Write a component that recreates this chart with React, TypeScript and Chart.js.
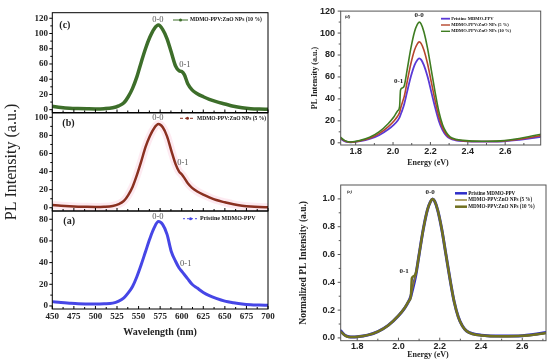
import React, { useEffect, useRef } from 'react';
import { Chart, registerables } from 'chart.js';

Chart.register(...registerables);

const SERIF = "'Liberation Serif', 'Times New Roman', serif";
const SANS = "'Liberation Sans', Arial, sans-serif";
const W = 550;
const H = 363;

// ---------- series names ----------
const seriesNames = ['Pristine MDMO-PPV', 'MDMO-PPV:ZnO NPs (5 %)', 'MDMO-PPV:ZnO NPs (10 %)'];

// ---------- panels (a)-(c): PL vs wavelength ----------
const wavelength = [450, 460, 470, 480, 490, 500, 510, 520, 527, 533, 538, 543, 548, 553, 558, 563, 568, 573, 578, 583, 588, 593, 597, 600, 603, 607, 612, 618, 625, 632, 640, 650, 660, 670, 680, 690, 700];
const plPristineWl = [4, 3.2, 2.6, 2.1, 1.9, 1.8, 2, 2.6, 4.5, 7.5, 12, 18, 27, 38, 50, 62, 72, 77.8, 75, 66, 50, 41, 35, 32, 29, 25, 20, 16.5, 12.5, 9.5, 7, 4.5, 3, 1.8, 1.1, 0.8, 0.6];
const plZno5Wl = [3, 2.2, 1.6, 1.2, 1, 0.9, 1.1, 2, 4, 7.5, 14, 23, 36, 51, 67, 79, 88, 92.5, 89, 79, 63, 48, 40, 37, 33, 27, 22, 18, 14.5, 11.5, 8.5, 6, 3.8, 2.3, 1.3, 0.8, 0.6];
const plZno10Wl = [4.5, 3, 2, 1.5, 1.2, 1, 1.3, 2.5, 5, 9, 17, 28, 43, 62, 80, 95, 106, 111, 105, 93, 75, 57, 51, 50, 46, 34, 26, 21, 17, 13.5, 10.5, 7.5, 4.5, 2.5, 1.3, 0.8, 0.6];

// ---------- panel (d): PL vs energy ----------
const energyD = [1.68, 1.70, 1.72, 1.74, 1.76, 1.775, 1.825, 1.875, 1.925, 1.975, 2.005, 2.025, 2.035, 2.04, 2.05, 2.06, 2.075, 2.095, 2.115, 2.13, 2.14, 2.15, 2.165, 2.185, 2.205, 2.225, 2.245, 2.265, 2.285, 2.305, 2.335, 2.375, 2.475, 2.575, 2.675, 2.755, 2.825];
const plPristineE = [8, 5.5, 3.6, 1.5, 0.6, 0.5, 1.5, 3.5, 6.9, 12.3, 16.6, 20.4, 23.1, 25.4, 30.0, 35.4, 46.2, 60.1, 70.8, 75.5, 77.0, 75.8, 70.8, 60.1, 46.2, 32.3, 20.0, 11.6, 6.5, 3.9, 2.3, 1.5, 1.0, 1.2, 2.7, 4.6, 6.2];
const plZno5E = [9, 6.5, 4.3, 1.8, 0.7, 0.6, 1.8, 4.1, 8.3, 14.7, 19.8, 24.4, 27.6, 31.0, 36.8, 42.3, 55.2, 71.8, 84.6, 90.2, 92.0, 90.6, 84.6, 71.8, 55.2, 38.6, 23.9, 13.8, 7.8, 4.6, 2.8, 1.8, 1.2, 1.5, 3.2, 5.5, 7.4];
const plZno10E = [10, 7.5, 5, 2.2, 0.9, 0.7, 2.2, 5.0, 9.9, 17.6, 23.7, 29.2, 33.0, 48.0, 50.0, 52.0, 66.0, 85.8, 101.2, 107.8, 110.0, 108.4, 101.2, 85.8, 66.0, 46.2, 28.6, 16.5, 9.4, 5.5, 3.3, 2.2, 1.4, 1.8, 3.9, 6.6, 8.8];

// ---------- panel (e): normalized PL vs energy ----------
const energyE = [1.70, 1.72, 1.74, 1.76, 1.78, 1.80, 1.85, 1.90, 1.95, 2.00, 2.03, 2.05, 2.06, 2.065, 2.075, 2.085, 2.10, 2.12, 2.14, 2.155, 2.165, 2.175, 2.19, 2.21, 2.23, 2.25, 2.27, 2.29, 2.31, 2.33, 2.36, 2.40, 2.50, 2.60, 2.70, 2.78, 2.85];
const normPristine = [0.07, 0.05, 0.02, 0.008, 0.006, 0.008, 0.02, 0.045, 0.09, 0.16, 0.215, 0.265, 0.30, 0.33, 0.39, 0.46, 0.60, 0.78, 0.92, 0.98, 1.0, 0.985, 0.92, 0.78, 0.60, 0.42, 0.26, 0.15, 0.085, 0.05, 0.03, 0.02, 0.013, 0.016, 0.035, 0.06, 0.08];
const normZno5 = [0.065, 0.045, 0.018, 0.007, 0.006, 0.008, 0.02, 0.046, 0.09, 0.16, 0.215, 0.265, 0.30, 0.335, 0.40, 0.46, 0.60, 0.78, 0.92, 0.98, 1.0, 0.985, 0.92, 0.78, 0.60, 0.42, 0.26, 0.15, 0.085, 0.05, 0.028, 0.018, 0.011, 0.014, 0.03, 0.05, 0.07];
const normZno10 = [0.06, 0.045, 0.018, 0.007, 0.006, 0.008, 0.02, 0.046, 0.09, 0.16, 0.215, 0.265, 0.30, 0.43, 0.445, 0.47, 0.60, 0.78, 0.92, 0.98, 1.0, 0.985, 0.92, 0.78, 0.60, 0.42, 0.26, 0.15, 0.085, 0.05, 0.028, 0.018, 0.012, 0.015, 0.032, 0.055, 0.075];

// ---------- ticks ----------
const wlTicks = [450, 475, 500, 525, 550, 575, 600, 625, 650, 675, 700];
const wlMinor = [462.5, 487.5, 512.5, 537.5, 562.5, 587.5, 612.5, 637.5, 662.5, 687.5];
const yTicksC = [0, 20, 40, 60, 80, 100, 120];
const yTicksB = [0, 20, 40, 60, 80, 100];
const yTicksA = [0, 20, 40, 60, 80];
const yMinorC = [10, 30, 50, 70, 90, 110];
const yMinorB = [10, 30, 50, 70, 90];
const yMinorA = [10, 30, 50, 70];
const eTicks = [1.8, 2.0, 2.2, 2.4, 2.6];
const eMinor = [1.9, 2.1, 2.3, 2.5, 2.7];
const yTicksD = [0, 20, 40, 60, 80, 100, 120];
const yMinorD = [10, 30, 50, 70, 90, 110];
const yTicksE = [0, 0.2, 0.4, 0.6, 0.8, 1.0];
const yMinorE = [0.1, 0.3, 0.5, 0.7, 0.9];

const pts = (xs: number[], ys: number[]) => xs.map((x, i) => ({ x, y: ys[i] }));

const decoPlugin = {
  id: 'deco',
  afterDraw(chart: any, _a: any, o: any) {
    const ctx: CanvasRenderingContext2D = chart.ctx;
    const { left, right, top, bottom } = chart.chartArea;
    const xs = chart.scales.x;
    const ys = chart.scales.y;
    ctx.save();
    ctx.strokeStyle = o.frameColor || '#000';
    ctx.lineWidth = 1;
    ctx.setLineDash([]);
    ctx.strokeRect(left, top, right - left, bottom - top);
    const t = o.ticks;
    if (t) {
      const xt = (vals: number[], len: number) => {
        for (const v of vals) {
          const p = xs.getPixelForValue(v);
          if (p < left - 0.5 || p > right + 0.5) continue;
          ctx.beginPath();
          ctx.moveTo(p, bottom);
          ctx.lineTo(p, bottom + t.xDir * len);
          ctx.stroke();
        }
      };
      const yt = (vals: number[], len: number) => {
        for (const v of vals) {
          const p = ys.getPixelForValue(v);
          if (p < top - 0.5 || p > bottom + 0.5) continue;
          ctx.beginPath();
          ctx.moveTo(left, p);
          ctx.lineTo(left - t.yDir * len, p);
          ctx.stroke();
        }
      };
      xt(t.xMajor, t.majorLen);
      xt(t.xMinor, t.minorLen);
      yt(t.yMajor, t.majorLen);
      yt(t.yMinor, t.minorLen);
    }
    ctx.textBaseline = 'middle';
    for (const it of o.texts || []) {
      const px = it.data ? xs.getPixelForValue(it.x) : left + it.dx;
      const py = it.data ? ys.getPixelForValue(it.y) : top + it.dy;
      ctx.font = it.font;
      ctx.fillStyle = it.color || '#222';
      ctx.textAlign = it.align || 'center';
      ctx.fillText(it.text, px, py);
    }
    const lg = o.legend;
    if (lg) {
      lg.items.forEach((item: any, i: number) => {
        const y = top + lg.dy + i * lg.rowH;
        const x0 = left + lg.dx;
        ctx.strokeStyle = item.color;
        ctx.lineWidth = item.width;
        ctx.setLineDash(item.dash || []);
        ctx.beginPath();
        ctx.moveTo(x0, y);
        ctx.lineTo(x0 + lg.lineLen, y);
        ctx.stroke();
        ctx.setLineDash([]);
        if (item.dot) {
          ctx.fillStyle = item.color;
          ctx.beginPath();
          ctx.arc(x0 + lg.lineLen / 2, y, 1.5, 0, Math.PI * 2);
          ctx.fill();
        }
        ctx.font = lg.font;
        ctx.fillStyle = lg.color || '#111';
        ctx.textAlign = 'left';
        ctx.fillText(item.label, x0 + lg.lineLen + lg.gap, y);
      });
    }
    for (const ti of o.titles || []) {
      ctx.font = ti.font;
      ctx.fillStyle = ti.color || '#222';
      ctx.textAlign = 'center';
      ctx.fillText(ti.text, ti.x, ti.y);
    }
    ctx.restore();
  },
};

function makeConfig(p: any): any {
  return {
    type: 'line',
    data: { datasets: p.datasets },
    options: {
      responsive: false,
      animation: false,
      devicePixelRatio: 1,
      events: [],
      layout: {
        padding: { left: p.yBoxLeft, top: p.area.t, right: W - p.area.r, bottom: H - p.area.b - p.xBoxH },
      },
      elements: { point: { radius: 0 }, line: { cubicInterpolationMode: 'monotone' } },
      plugins: { legend: { display: false }, tooltip: { enabled: false }, deco: p.deco },
      scales: {
        x: {
          type: 'linear',
          min: p.xMin,
          max: p.xMax,
          afterBuildTicks: (s: any) => { s.ticks = p.xTicks.map((v: number) => ({ value: v })); },
          afterFit: (s: any) => { s.height = p.xBoxH; },
          grid: { display: false, drawTicks: false },
          border: { display: false },
          ticks: {
            display: p.xLabels,
            autoSkip: false,
            maxRotation: 0,
            padding: p.xTickPad,
            font: p.tickFont,
            color: '#222',
            callback: (v: any) => Number(v).toFixed(p.xDigits),
          },
          title: p.xTitle
            ? { display: true, text: p.xTitle.text, font: p.xTitle.font, color: '#222', padding: { top: 0, bottom: p.xTitle.pad } }
            : { display: false },
        },
        y: {
          type: 'linear',
          min: p.yMin,
          max: p.yMax,
          afterBuildTicks: (s: any) => { s.ticks = p.yTicks.map((v: number) => ({ value: v })); },
          afterFit: (s: any) => { s.width = p.area.l - p.yBoxLeft; },
          grid: { display: false, drawTicks: false },
          border: { display: false },
          ticks: {
            autoSkip: false,
            padding: p.yTickPad,
            font: p.tickFont,
            color: '#222',
            callback: (v: any) => Number(v).toFixed(p.yDigits),
          },
          title: p.yTitle
            ? { display: true, text: p.yTitle.text, font: p.yTitle.font, color: p.yTitle.color || '#222', padding: { top: p.yTitle.pad, bottom: 0 } }
            : { display: false },
        },
      },
    },
    plugins: [decoPlugin],
  };
}

const leftTickFont = { family: SERIF, size: 9, weight: 'bold' };
const rightTickFont = { family: SANS, size: 9, weight: 'bold' };
const leftNote = `8.5px ${SERIF}`;
const rightNote = `bold 7px ${SERIF}`;

const GREEN_L = '#3d6e2a';
const RED_L = '#8a3020';
const BLUE_L = '#4646e6';

function leftTicks(yMajor: number[], yMinor: number[]) {
  return { xMajor: wlTicks, xMinor: wlMinor, yMajor, yMinor, xDir: -1, yDir: 1, majorLen: 3, minorLen: 2 };
}

const configs = [
  // (c)
  () => makeConfig({
    area: { l: 52.3, t: 12.7, r: 268, b: 112.5 }, yBoxLeft: 0, xBoxH: 0,
    xMin: 450, xMax: 700, yMin: -3.7, yMax: 127.3,
    xTicks: wlTicks, yTicks: yTicksC, xLabels: false, xDigits: 0, yDigits: 0,
    tickFont: leftTickFont, xTickPad: 2.6, yTickPad: 4.3,
    datasets: [{ label: seriesNames[2], data: pts(wavelength, plZno10Wl), borderColor: GREEN_L, borderWidth: 3.5 }],
    deco: {
      frameColor: '#000',
      ticks: leftTicks(yTicksC, yMinorC),
      texts: [
        { text: '(c)', dx: 7, dy: 12.3, align: 'left', font: `bold 10px ${SERIF}` },
        { text: '0-0', data: true, x: 572.3, y: 117.7, font: leftNote, color: '#555' },
        { text: '0-1', data: true, x: 603.6, y: 58.7, font: leftNote, color: '#555' },
      ],
      legend: { dx: 120.7, dy: 7.3, rowH: 7, lineLen: 15, gap: 2, font: `bold 5.5px ${SERIF}`, items: [{ label: seriesNames[2], color: GREEN_L, width: 1, dot: true }] },
    },
  }),
  // (b)
  () => makeConfig({
    area: { l: 52.3, t: 113, r: 268, b: 211 }, yBoxLeft: 0, xBoxH: 0,
    xMin: 450, xMax: 700, yMin: -3.6, yMax: 104.8,
    xTicks: wlTicks, yTicks: yTicksB, xLabels: false, xDigits: 0, yDigits: 0,
    tickFont: leftTickFont, xTickPad: 2.6, yTickPad: 4.3,
    yTitle: { text: 'PL Intensity (a.u.)', font: { family: SERIF, size: 16, weight: 'normal' }, pad: 2.4, color: '#222' },
    datasets: [
      { label: seriesNames[1], data: pts(wavelength, plZno5Wl), borderColor: RED_L, borderWidth: 2.5 },
      { label: 'halo', data: pts(wavelength, plZno5Wl), borderColor: 'rgba(247,185,210,0.3)', borderWidth: 8 },
    ],
    deco: {
      frameColor: '#000',
      ticks: leftTicks(yTicksB, yMinorB),
      texts: [
        { text: '(b)', dx: 10, dy: 10.7, align: 'left', font: `bold 10px ${SERIF}` },
        { text: '0-0', data: true, x: 572.3, y: 99.2, font: leftNote, color: '#555' },
        { text: '0-1', data: true, x: 601.3, y: 49.4, font: leftNote, color: '#555' },
      ],
      legend: { dx: 127.7, dy: 5.3, rowH: 7, lineLen: 15, gap: 2, font: `bold 5.5px ${SERIF}`, items: [{ label: seriesNames[1], color: RED_L, width: 1, dot: true, dash: [3, 2] }] },
    },
  }),
  // (a)
  () => makeConfig({
    area: { l: 52.3, t: 211, r: 268, b: 309 }, yBoxLeft: 0, xBoxH: 30,
    xMin: 450, xMax: 700, yMin: -2.8, yMax: 87.6,
    xTicks: wlTicks, yTicks: yTicksA, xLabels: true, xDigits: 0, yDigits: 0,
    tickFont: leftTickFont, xTickPad: 2.6, yTickPad: 4.3,
    xTitle: { text: 'Wavelength (nm)', font: { family: SERIF, size: 10, weight: 'bold' }, pad: 1 },
    datasets: [{ label: seriesNames[0], data: pts(wavelength, plPristineWl), borderColor: BLUE_L, borderWidth: 3 }],
    deco: {
      frameColor: '#000',
      ticks: leftTicks(yTicksA, yMinorA),
      texts: [
        { text: '(a)', dx: 11, dy: 10, align: 'left', font: `bold 10px ${SERIF}` },
        { text: '0-0', data: true, x: 572.3, y: 82.1, font: leftNote, color: '#555' },
        { text: '0-1', data: true, x: 604.7, y: 38.7, font: leftNote, color: '#555' },
      ],
      legend: { dx: 130.7, dy: 7.7, rowH: 7, lineLen: 15, gap: 2, font: `bold 6px ${SERIF}`, items: [{ label: seriesNames[0], color: BLUE_L, width: 1, dot: true, dash: [2, 2] }] },
    },
  }),
  // (d)
  () => makeConfig({
    area: { l: 340.7, t: 9.1, r: 540.7, b: 145 }, yBoxLeft: 305, xBoxH: 12,
    xMin: 1.72, xMax: 2.79, yMin: -2, yMax: 120,
    xTicks: eTicks, yTicks: yTicksD, xLabels: true, xDigits: 1, yDigits: 0,
    tickFont: rightTickFont, xTickPad: 0.8, yTickPad: 5.7,
    yTitle: { text: 'PL Intensity (a.u.)', font: { family: SERIF, size: 8, weight: 'bold' }, pad: 5.2, color: '#222' },
    datasets: [
      { label: seriesNames[2], data: pts(energyD, plZno10E), borderColor: '#3f7d22', borderWidth: 1.6 },
      { label: seriesNames[1], data: pts(energyD, plZno5E), borderColor: '#b5462c', borderWidth: 1.6 },
      { label: seriesNames[0], data: pts(energyD, plPristineE), borderColor: '#5a3ad6', borderWidth: 1.8 },
    ],
    deco: {
      frameColor: '#555',
      ticks: { xMajor: eTicks, xMinor: eMinor, yMajor: yTicksD, yMinor: yMinorD, xDir: -1, yDir: 1, majorLen: 3, minorLen: 2 },
      texts: [
        { text: '(d)', dx: 4, dy: 6, align: 'left', font: `italic bold 5px ${SERIF}` },
        { text: '0-0', data: true, x: 2.14, y: 116.4, font: rightNote },
        { text: '0-1', data: true, x: 2.03, y: 56.3, font: rightNote },
      ],
      legend: {
        dx: 100.3, dy: 7.6, rowH: 6.3, lineLen: 9, gap: 1.2, font: `bold 4.6px ${SERIF}`,
        items: [
          { label: seriesNames[0], color: '#5a3ad6', width: 1.8 },
          { label: seriesNames[1], color: '#b5462c', width: 1.4 },
          { label: seriesNames[2], color: '#3f7d22', width: 1.4 },
        ],
      },
      titles: [{ text: 'Energy (eV)', x: 428, y: 163, font: `bold 8px ${SERIF}` }],
    },
  }),
  // (e)
  () => makeConfig({
    area: { l: 340.7, t: 185, r: 546, b: 340.7 }, yBoxLeft: 296, xBoxH: 12,
    xMin: 1.72, xMax: 2.715, yMin: -0.02, yMax: 1.1,
    xTicks: eTicks, yTicks: yTicksE, xLabels: true, xDigits: 1, yDigits: 1,
    tickFont: rightTickFont, xTickPad: 0.5, yTickPad: 5.7,
    yTitle: { text: 'Normalized PL Intensity (a.u.)', font: { family: SERIF, size: 9.5, weight: 'bold' }, pad: 2.3, color: '#222' },
    datasets: [
      { label: seriesNames[2], data: pts(energyE, normZno10), borderColor: '#707020', borderWidth: 2.5 },
      { label: seriesNames[1], data: pts(energyE, normZno5), borderColor: '#8c7a2a', borderWidth: 1.5 },
      { label: seriesNames[0], data: pts(energyE, normPristine), borderColor: '#2d2dc8', borderWidth: 3 },
    ],
    deco: {
      frameColor: '#555',
      ticks: { xMajor: eTicks, xMinor: eMinor, yMajor: yTicksE, yMinor: yMinorE, xDir: -1, yDir: 1, majorLen: 3, minorLen: 2 },
      texts: [
        { text: '(e)', dx: 6, dy: 7, align: 'left', font: `italic bold 5px ${SERIF}` },
        { text: '0-0', data: true, x: 2.153, y: 1.045, font: rightNote },
        { text: '0-1', data: true, x: 2.027, y: 0.478, font: rightNote },
      ],
      legend: {
        dx: 114.3, dy: 8.3, rowH: 6.7, lineLen: 12, gap: 1.2, font: `bold 5.1px ${SERIF}`,
        items: [
          { label: seriesNames[0], color: '#2d2dc8', width: 2.5 },
          { label: seriesNames[1], color: '#8c7a2a', width: 1.4 },
          { label: seriesNames[2], color: '#707020', width: 2.5 },
        ],
      },
      titles: [{ text: 'Energy (eV)', x: 428, y: 355, font: `bold 8px ${SERIF}` }],
    },
  }),
];

export default function App() {
  const refs = useRef<(HTMLCanvasElement | null)[]>([]);
  useEffect(() => {
    const charts = configs.map((cfg, i) => new Chart(refs.current[i] as HTMLCanvasElement, cfg()));
    return () => charts.forEach((c) => c.destroy());
  }, []);
  return (
    <div style={{ position: 'absolute', left: 0, top: 0, width: W, height: H, background: '#fff', overflow: 'hidden' }}>
      {configs.map((_, i) => (
        <canvas
          key={i}
          ref={(el) => { refs.current[i] = el; }}
          width={W}
          height={H}
          style={{ position: 'absolute', left: 0, top: 0, width: W, height: H }}
        />
      ))}
    </div>
  );
}
